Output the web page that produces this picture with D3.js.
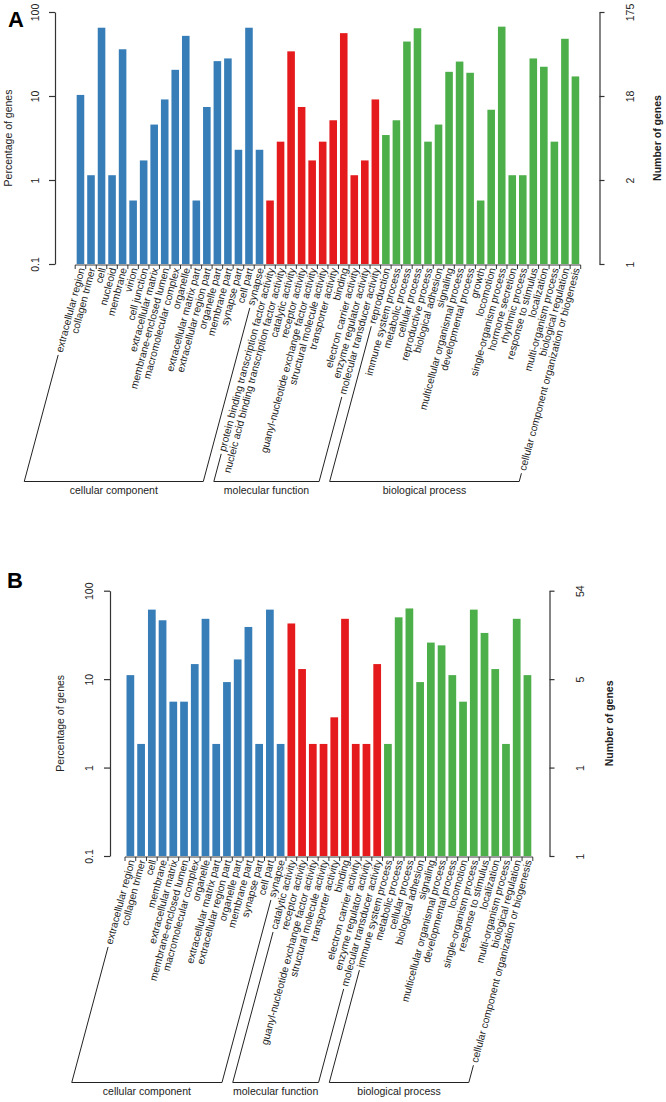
<!DOCTYPE html>
<html>
<head>
<meta charset="utf-8">
<script src="https://cdn.jsdelivr.net/npm/d3@7"></script>
<style>
  html, body { margin: 0; padding: 0; background: #fff; }
  svg { display: block; font-family: "Liberation Sans", Arial, Helvetica, sans-serif; }
</style>
</head>
<body>
<svg id="chart" width="666" height="1102"></svg>
<script>
// ---------------- DATA ----------------
const groupNames = ["cellular component", "molecular function", "biological process"];
const groupColors = ["#377EB8", "#E41A1C", "#4DAF4A"];
const yTickValues = [100, 10, 1, 0.1];
const yTickLabels = ["100", "10", "1", "0.1"];

// Panel A
const catsA_CC = ["extracellular region","collagen trimer","cell","nucleoid","membrane","virion","cell junction","extracellular matrix","membrane-enclosed lumen","macromolecular complex","organelle","extracellular matrix part","extracellular region part","organelle part","membrane part","synapse part","cell part","synapse"];
const valsA_CC = [10.3, 1.14, 65, 1.14, 36, 0.57, 1.71, 4.57, 9.1, 20.5, 52, 0.57, 7.4, 26, 28, 2.29, 65, 2.29];
const catsA_MF = ["protein binding transcription factor activity","nucleic acid binding transcription factor activity","catalytic activity","receptor activity","guanyl-nucleotide exchange factor activity","structural molecule activity","transporter activity","binding","electron carrier activity","enzyme regulator activity","molecular transducer activity"];
const valsA_MF = [0.57, 2.86, 34, 7.4, 1.71, 2.86, 5.14, 56, 1.14, 1.71, 9.1];
const catsA_BP = ["reproduction","immune system process","metabolic process","cellular process","reproductive process","biological adhesion","signaling","multicellular organismal process","developmental process","growth","locomotion","single-organism process","hormone secretion","rhythmic process","response to stimulus","localization","multi-organism process","biological regulation","cellular component organization or biogenesis"];
const valsA_BP = [3.43, 5.14, 44.5, 64, 2.86, 4.57, 19.4, 25.7, 18.9, 0.57, 6.86, 66.9, 1.14, 1.14, 28, 22.3, 2.86, 48, 17.1];
const rightTickLabelsA = ["175", "18", "2", "1"];

// Panel B
const catsB_CC = ["extracellular region","collagen trimer","cell","membrane","extracellular matrix","membrane-enclosed lumen","macromolecular complex","organelle","extracellular matrix part","extracellular region part","organelle part","membrane part","synapse part","cell part","synapse"];
const valsB_CC = [11.1, 1.85, 61.1, 46.3, 5.56, 5.56, 14.8, 48.1, 1.85, 9.26, 16.7, 38.9, 1.85, 61.1, 1.85];
const catsB_MF = ["catalytic activity","receptor activity","guanyl-nucleotide exchange factor activity","structural molecule activity","transporter activity","binding","electron carrier activity","enzyme regulator activity","molecular transducer activity"];
const valsB_MF = [42.6, 13.0, 1.85, 1.85, 3.7, 48.1, 1.85, 1.85, 14.8];
const catsB_BP = ["immune system process","metabolic process","cellular process","biological adhesion","signaling","multicellular organismal process","developmental process","locomotion","single-organism process","response to stimulus","localization","multi-organism process","biological regulation","cellular component organization or biogenesis"];
const valsB_BP = [1.85, 50, 63, 9.26, 25.9, 24.1, 11.1, 5.56, 61.1, 33.3, 13.0, 1.85, 48.1, 11.1];
const rightTickLabelsB = ["54", "5", "1", "1"];

// ---------------- DRAWING ----------------
const svg = d3.select("#chart");
const ANG = 75 * Math.PI / 180;
const INK = "#222";

function drawPanel(p) {
  const g = svg.append("g");
  const rows = [];
  p.cats.forEach((cs, gi) => cs.forEach((c, i) => rows.push({ name: c, value: p.vals[gi][i], group: gi })));

  const x = d3.scaleBand().domain(d3.range(rows.length)).range([p.x0, p.x1]).paddingInner(0.28).paddingOuter(0.14);
  const y = d3.scaleLog().domain([0.1, 100]).range([p.yBottom, p.yTop]);

  // bars
  g.selectAll("rect.bar").data(rows).join("rect")
    .attr("class", "bar")
    .attr("x", (d, i) => x(i))
    .attr("width", x.bandwidth())
    .attr("y", d => y(d.value))
    .attr("height", d => y(0.1) - y(d.value))
    .attr("fill", d => groupColors[d.group]);

  // left axis
  const la = g.append("g").attr("transform", `translate(${p.leftAxisX},0)`)
    .call(d3.axisLeft(y).tickValues(yTickValues).tickFormat((d, i) => yTickLabels[i]).tickSize(6).tickSizeOuter(0));
  la.select(".domain").attr("stroke", "#333").attr("stroke-width", 1.2);
  la.selectAll(".tick line").attr("stroke", "#333").attr("stroke-width", 1.2);
  la.selectAll(".tick text")
    .attr("x", null).attr("dy", "0.35em")
    .attr("transform", `translate(${p.leftLabelDX},0) rotate(-90)`)
    .attr("text-anchor", "middle")
    .attr("font-size", 10.5).attr("fill", INK)
    .attr("font-family", "Liberation Sans, Arial, sans-serif");

  // right axis
  const ra = g.append("g").attr("transform", `translate(${p.rightAxisX},0)`)
    .call(d3.axisRight(y).tickValues(yTickValues).tickFormat((d, i) => p.rightLabels[i]).tickSize(5).tickSizeOuter(0));
  ra.select(".domain").attr("stroke", "#333").attr("stroke-width", 1.2);
  ra.selectAll(".tick line").attr("stroke", "#333").attr("stroke-width", 1.2);
  ra.selectAll(".tick text")
    .attr("x", null).attr("dy", "0.35em")
    .attr("transform", `translate(${p.rightLabelDX},0) rotate(-90)`)
    .attr("text-anchor", "middle")
    .attr("font-size", 10.5).attr("fill", INK)
    .attr("font-family", "Liberation Sans, Arial, sans-serif");

  const yMid = (p.yTop + p.yBottom) / 2;
  g.append("text")
    .attr("transform", `translate(${p.leftTitleX},${yMid}) rotate(-90)`)
    .attr("dy", "0.35em").attr("text-anchor", "middle")
    .attr("font-size", 10.5).attr("fill", INK)
    .text("Percentage of genes");
  g.append("text")
    .attr("transform", `translate(${p.rightTitleX},${yMid}) rotate(-90)`)
    .attr("dy", "0.35em").attr("text-anchor", "middle")
    .attr("font-size", 10.5).attr("font-weight", "bold").attr("fill", INK)
    .text("Number of genes");

  // panel letter
  g.append("text").attr("x", p.letterX).attr("y", p.letterY)
    .attr("font-size", 22).attr("font-weight", "bold").attr("fill", "#000")
    .text(p.letter);

  // tick comb under bars
  const combY = p.yBottom + 1;
  g.append("line").attr("x1", p.x0).attr("x2", p.x1).attr("y1", combY).attr("y2", combY)
    .attr("stroke", INK).attr("stroke-width", 0.9);
  g.selectAll("line.comb").data(d3.range(rows.length + 1)).join("line")
    .attr("class", "comb")
    .attr("x1", i => p.x0 + i * x.step()).attr("x2", i => p.x0 + i * x.step())
    .attr("y1", combY).attr("y2", combY + 4)
    .attr("stroke", INK).attr("stroke-width", 0.9);

  // category labels
  const anchorY = p.yBottom + 4;
  const labels = g.selectAll("text.cat").data(rows).join("text")
    .attr("class", "cat")
    .attr("transform", (d, i) => `translate(${x(i) + x.bandwidth() / 2 + 1},${anchorY}) rotate(-75)`)
    .attr("text-anchor", "end").attr("dy", "0.35em")
    .attr("font-size", 10.3).attr("fill", INK)
    .text(d => d.name);

  const nodes = labels.nodes();
  function labelStart(i) {
    const L = nodes[i].getComputedTextLength();
    const ax = x(i) + x.bandwidth() / 2 + 1;
    return [ax - L * Math.cos(ANG), anchorY + L * Math.sin(ANG)];
  }
  function armBottom(s) {
    return [s[0] - (p.bracketY - s[1]) / Math.tan(ANG), p.bracketY];
  }

  // group brackets
  let idx = 0;
  p.cats.forEach((cs, gi) => {
    const f = idx, l = idx + cs.length - 1;
    idx += cs.length;
    const gap = 3;
    const sf = labelStart(f), sl = labelStart(l);
    const sf2 = [sf[0] - gap * Math.cos(ANG), sf[1] + gap * Math.sin(ANG)];
    const sl2 = [sl[0] - gap * Math.cos(ANG), sl[1] + gap * Math.sin(ANG)];
    const bf = armBottom(sf2), bl = armBottom(sl2);
    g.append("path")
      .attr("d", d3.line()([sf2, bf, bl, sl2]))
      .attr("fill", "none").attr("stroke", INK).attr("stroke-width", 1);
    g.append("text")
      .attr("x", (bf[0] + bl[0]) / 2).attr("y", p.bracketY + 12)
      .attr("text-anchor", "middle").attr("font-size", 10.5).attr("fill", INK)
      .text(groupNames[gi]);
  });
}

drawPanel({
  letter: "A", letterX: 8, letterY: 27,
  cats: [catsA_CC, catsA_MF, catsA_BP], vals: [valsA_CC, valsA_MF, valsA_BP],
  rightLabels: rightTickLabelsA,
  x0: 75.2, x1: 580.7, yTop: 12, yBottom: 264,
  leftAxisX: 55, leftLabelDX: -19.5, leftTitleX: 8.5,
  rightAxisX: 599.5, rightLabelDX: 31, rightTitleX: 657,
  bracketY: 481.5
});

drawPanel({
  letter: "B", letterX: 7, letterY: 588,
  cats: [catsB_CC, catsB_MF, catsB_BP], vals: [valsB_CC, valsB_MF, valsB_BP],
  rightLabels: rightTickLabelsB,
  x0: 125.0, x1: 532.8, yTop: 590.7, yBottom: 856,
  leftAxisX: 110, leftLabelDX: -21, leftTitleX: 60,
  rightAxisX: 549.5, rightLabelDX: 30.5, rightTitleX: 609,
  bracketY: 1082.5
});
</script>
</body>
</html>
